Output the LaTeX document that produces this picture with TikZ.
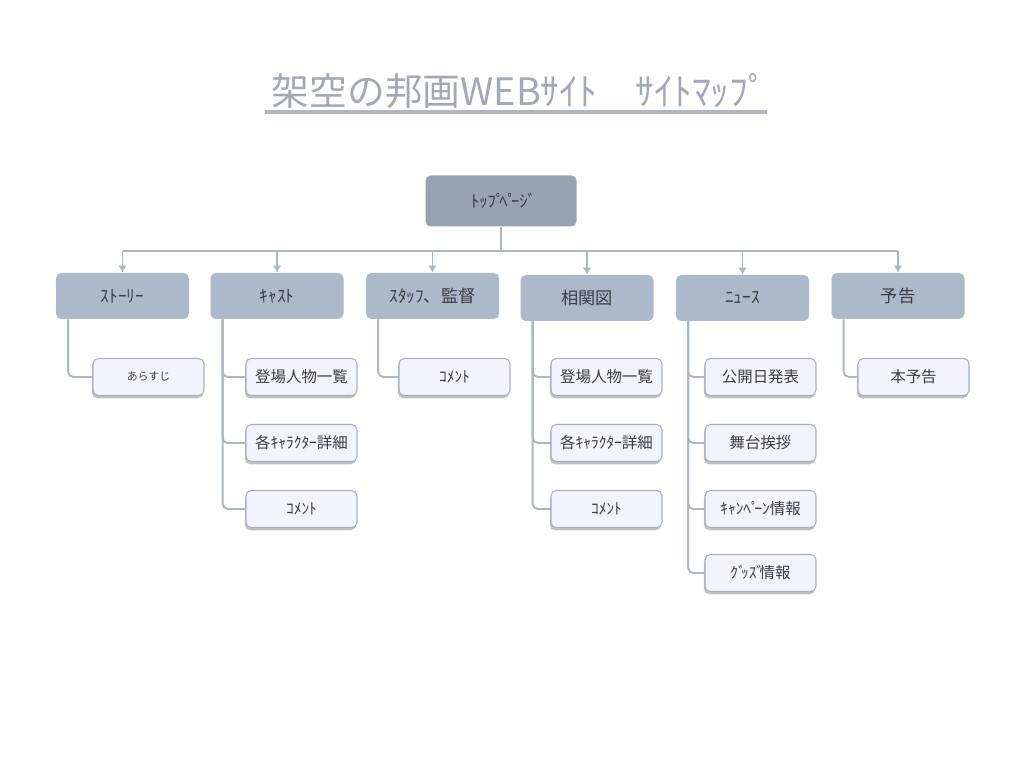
\documentclass[tikz,border=0pt]{standalone}
\usepackage{fontspec}
\setmainfont{Noto Sans CJK JP}
\usetikzlibrary{arrows.meta,shadows}

\definecolor{topfill}{HTML}{97A2B2}
\definecolor{catfill}{HTML}{ABB9CB}
\definecolor{leaffill}{HTML}{F2F3FC}
\definecolor{leafline}{HTML}{A9B1BE}
\definecolor{linkgray}{HTML}{AEB6C2}
\definecolor{titlegray}{HTML}{A3A8B2}
\definecolor{textgray}{HTML}{3C3C44}

% half-width (han)dakuten sit tight on their letter
\newcommand{\dk}[1]{#1\kern-0.3em}

\tikzset{
    topbox/.style={fill=topfill, rounded corners=3pt, minimum width=3.02cm, minimum height=1.02cm,
        text=textgray, font=\fontsize{9.5}{11}\selectfont},
    catbox/.style={fill=catfill, rounded corners=3pt, minimum width=2.66cm, minimum height=0.92cm,
        text=textgray, font=\fontsize{9.8}{11}\selectfont},
    pagebox/.style={draw=leafline, line width=0.6pt, fill=leaffill, rounded corners=3pt,
        minimum width=2.22cm, minimum height=0.74cm, inner sep=0pt, text=textgray,
        font=\fontsize{8.8}{10}\selectfont,
        drop shadow={shadow xshift=-0.6pt, shadow yshift=-1.6pt, fill=gray!70, opacity=0.7}},
    link/.style={draw=linkgray, line width=1.1pt, rounded corners=3pt},
}

\begin{document}
\begin{tikzpicture}
    \useasboundingbox (0,0) rectangle (20.48,-15.36);

    % title
    \node (title) at (10.28,-1.82) {\fontsize{21.5}{24}\selectfont\color{titlegray}架空の邦画WEBｻｲﾄ　ｻｲﾄﾏｯﾌ\dk{ﾟ}};
    \draw[draw=linkgray, line width=2.2pt] (5.30,-2.24) -- (15.34,-2.24);

    % top page
    \node[topbox] (top) at (10.02,-4.02) {ﾄｯﾌ\dk{ﾟ}ﾍ\dk{ﾟ}ｰｼ\dk{ﾞ}};

    % categories
    \node[catbox] (story) at (2.45,-5.92) {ｽﾄｰﾘｰ};
    \node[catbox] (cast) at (5.54,-5.92) {ｷｬｽﾄ};
    \node[catbox] (staff) at (8.65,-5.92) {ｽﾀｯﾌ、監督};
    \node[catbox] (corr) at (11.74,-5.96) {相関図};
    \node[catbox] (news) at (14.85,-5.96) {ﾆｭｰｽ};
    \node[catbox] (trailer) at (17.96,-5.92) {予告};

    % pages
    \node[pagebox, font=\fontsize{6.2}{8}\selectfont] (story1) at (2.97,-7.54) {あらすじ};
    \node[pagebox] (cast1) at (6.03,-7.54) {登場人物一覧};
    \node[pagebox] (cast2) at (6.03,-8.86) {各ｷｬﾗｸﾀｰ詳細};
    \node[pagebox] (cast3) at (6.03,-10.18) {ｺﾒﾝﾄ};
    \node[pagebox] (staff1) at (9.09,-7.54) {ｺﾒﾝﾄ};
    \node[pagebox] (corr1) at (12.13,-7.54) {登場人物一覧};
    \node[pagebox] (corr2) at (12.13,-8.86) {各ｷｬﾗｸﾀｰ詳細};
    \node[pagebox] (corr3) at (12.13,-10.18) {ｺﾒﾝﾄ};
    \node[pagebox] (news1) at (15.21,-7.54) {公開日発表};
    \node[pagebox] (news2) at (15.21,-8.86) {舞台挨拶};
    \node[pagebox] (news3) at (15.21,-10.18) {ｷｬﾝﾍ\dk{ﾟ}ｰﾝ情報};
    \node[pagebox] (news4) at (15.21,-11.46) {ｸ\dk{ﾞ}ｯｽ\dk{ﾞ}情報};
    \node[pagebox] (trailer1) at (18.27,-7.54) {本予告};

    % bus from top page
    \draw[link] (top.south) -- ++(0,-0.48) coordinate (bus);
    \draw[link, rounded corners=0pt] (story.north |- bus) -- (trailer.north |- bus);
    \foreach \n in {story,cast,staff,corr,news,trailer}
        \draw[link, -{Latex[length=4pt,width=5pt]}] (\n.north |- bus) -- (\n.north);

    % category -> pages
    \foreach \p/\c in {story/story1, cast/cast1, cast/cast2, cast/cast3, staff/staff1,
        corr/corr1, corr/corr2, corr/corr3, news/news1, news/news2, news/news3, news/news4,
        trailer/trailer1}
        \draw[link] ([xshift=0.25cm]\p.south west) |- (\c.west);
\end{tikzpicture}
\end{document}
